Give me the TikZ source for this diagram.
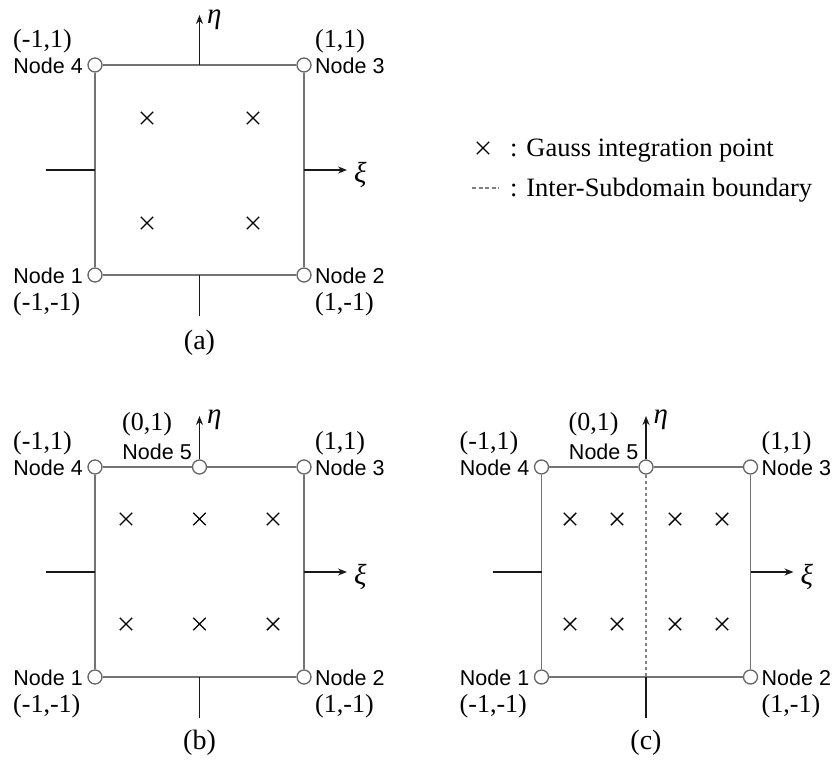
\documentclass[tikz,border=0pt]{standalone}
\usepackage{fontspec}
\setmainfont{Liberation Serif}
\newfontfamily\sansf{Liberation Sans}
\usetikzlibrary{arrows.meta,shapes.misc}
\tikzset{
  edge/.style={draw=black!55, line width=1.5pt},
  sub/.style={draw=black!50, line width=1.2pt, dash pattern=on 3.5pt off 2.5pt},
  axis/.style={draw=black!90, line width=1.9pt},
  arr/.style={axis, -{Stealth[length=9pt,width=7pt]}},
  fem/.style={circle, draw=black!60, fill=white, line width=1.3pt, minimum size=14pt, inner sep=0pt},
  gp/.style={cross out, draw=black, line width=1.4pt, minimum size=11pt, inner sep=0pt},
  lab/.style={font=\sansf\fontsize{21.5}{22}\selectfont, inner sep=0pt, text=black},
  crd/.style={font=\fontsize{26}{27}\selectfont, inner sep=0pt, text=black},
  captxt/.style={font=\fontsize{28}{30}\selectfont, inner sep=0pt},
  grk/.style={font=\itshape\fontsize{29}{30}\selectfont, inner sep=0pt},
  leg/.style={font=\fontsize{26.5}{28}\selectfont, inner sep=0pt, anchor=base west},
}
\begin{document}
\begin{tikzpicture}[x=1pt,y=-1pt]
\useasboundingbox (0,0) rectangle (835,760);

% ---------------- panel (a)
\begin{scope}[name prefix=a-]
  \node[fem] (n1) at (95,275) {};
  \node[fem] (n2) at (304,275) {};
  \node[fem] (n3) at (304,65) {};
  \node[fem] (n4) at (95,65) {};
  \coordinate (top) at (199.5,65);
  \coordinate (bot) at (199.5,275);
  \coordinate (lft) at (95,170);
  \coordinate (rgt) at (304,170);
  \coordinate (etaend) at (199.5,15);
  \coordinate (xiend) at (347,170);
  \coordinate (lstub) at (46,170);
  \coordinate (bstub) at (199.5,316);
  \draw[edge] (n1) -- (n2);
  \draw[edge] (n2) -- (n3);
  \draw[edge] (n3) -- (n4);
  \draw[edge] (n4) -- (n1);
  \draw[arr] (top) -- (etaend);
  \draw[arr] (rgt) -- (xiend);
  \draw[axis] (lstub) -- (lft);
  \draw[axis] (bot) -- (bstub);
  \node[grk, anchor=west] (eta) at (207,20) {η};
  \node[grk, anchor=west] (xi) at (354,175) {ξ};
  \node[gp] (g1) at (147,118) {};
  \node[gp] (g2) at (253,118) {};
  \node[gp] (g3) at (147,223) {};
  \node[gp] (g4) at (253,223) {};
  \node[crd, anchor=west] (c4) at (13,41) {(-1,1)};
  \node[lab, anchor=east] (l4) at (83,66) {Node 4};
  \node[crd, anchor=west] (c3) at (315,41) {(1,1)};
  \node[lab, anchor=west] (l3) at (315,66) {Node 3};
  \node[lab, anchor=east] (l1) at (83,276) {Node 1};
  \node[crd, anchor=west] (c1) at (13,304) {(-1,-1)};
  \node[lab, anchor=west] (l2) at (315,276) {Node 2};
  \node[crd, anchor=west] (c2) at (315,304) {(1,-1)};
  \node[captxt] (cp) at (199.5,343) {(a)};
\end{scope}

% ---------------- panel (b)
\begin{scope}[yshift=-402pt, name prefix=b-]
  \node[fem] (n1) at (95,275) {};
  \node[fem] (n2) at (304,275) {};
  \node[fem] (n3) at (304,65) {};
  \node[fem] (n4) at (95,65) {};
  \node[fem] (n5) at (199.5,65) {};
  \coordinate (bot) at (199.5,275);
  \coordinate (lft) at (95,170);
  \coordinate (rgt) at (304,170);
  \coordinate (etaend) at (199.5,14);
  \coordinate (xiend) at (347,170);
  \coordinate (lstub) at (46,170);
  \coordinate (bstub) at (199.5,316);
  \draw[edge] (n1) -- (n2);
  \draw[edge] (n2) -- (n3);
  \draw[edge] (n3) -- (n5);
  \draw[edge] (n5) -- (n4);
  \draw[edge] (n4) -- (n1);
  \draw[arr] (n5) -- (etaend);
  \draw[arr] (rgt) -- (xiend);
  \draw[axis] (lstub) -- (lft);
  \draw[axis] (bot) -- (bstub);
  \node[grk, anchor=west] (eta) at (207,18) {η};
  \node[grk, anchor=west] (xi) at (354,175) {ξ};
  \node[gp] (g1) at (126,117) {};
  \node[gp] (g2) at (199.5,117) {};
  \node[gp] (g3) at (273,117) {};
  \node[gp] (g4) at (126,222) {};
  \node[gp] (g5) at (199.5,222) {};
  \node[gp] (g6) at (273,222) {};
  \node[crd, anchor=west] (c4) at (13,41) {(-1,1)};
  \node[lab, anchor=east] (l4) at (83,66) {Node 4};
  \node[crd, anchor=west] (c5) at (122,22) {(0,1)};
  \node[lab, anchor=east] (l5) at (192,50) {Node 5};
  \node[crd, anchor=west] (c3) at (315,41) {(1,1)};
  \node[lab, anchor=west] (l3) at (315,66) {Node 3};
  \node[lab, anchor=east] (l1) at (83,276) {Node 1};
  \node[crd, anchor=west] (c1) at (13,304) {(-1,-1)};
  \node[lab, anchor=west] (l2) at (315,276) {Node 2};
  \node[crd, anchor=west] (c2) at (315,304) {(1,-1)};
  \node[captxt] (cp) at (199.5,341) {(b)};
\end{scope}

% ---------------- panel (c)
\begin{scope}[xshift=446.5pt, yshift=-402pt, name prefix=c-]
  \node[fem] (n1) at (95,275) {};
  \node[fem] (n2) at (304,275) {};
  \node[fem] (n3) at (304,65) {};
  \node[fem] (n4) at (95,65) {};
  \node[fem] (n5) at (199.5,65) {};
  \coordinate (bot) at (199.5,275);
  \coordinate (lft) at (95,170);
  \coordinate (rgt) at (304,170);
  \coordinate (etaend) at (199.5,14);
  \coordinate (xiend) at (347,170);
  \coordinate (lstub) at (46,170);
  \coordinate (bstub) at (199.5,316);
  \draw[edge] (n1) -- (n2);
  \draw[edge] (n2) -- (n3);
  \draw[edge] (n3) -- (n5);
  \draw[edge] (n5) -- (n4);
  \draw[edge] (n4) -- (n1);
  \draw[sub] (n5) -- (bot);
  \draw[arr] (n5) -- (etaend);
  \draw[arr] (rgt) -- (xiend);
  \draw[axis] (lstub) -- (lft);
  \draw[axis] (bot) -- (bstub);
  \node[grk, anchor=west] (eta) at (207,18) {η};
  \node[grk, anchor=west] (xi) at (354,175) {ξ};
  \node[gp] (g1) at (123.5,117) {};
  \node[gp] (g2) at (170.5,117) {};
  \node[gp] (g3) at (228.5,117) {};
  \node[gp] (g4) at (275.5,117) {};
  \node[gp] (g5) at (123.5,222) {};
  \node[gp] (g6) at (170.5,222) {};
  \node[gp] (g7) at (228.5,222) {};
  \node[gp] (g8) at (275.5,222) {};
  \node[crd, anchor=west] (c4) at (13,41) {(-1,1)};
  \node[lab, anchor=east] (l4) at (83,66) {Node 4};
  \node[crd, anchor=west] (c5) at (122,22) {(0,1)};
  \node[lab, anchor=east] (l5) at (192,50) {Node 5};
  \node[crd, anchor=west] (c3) at (315,41) {(1,1)};
  \node[lab, anchor=west] (l3) at (315,66) {Node 3};
  \node[lab, anchor=east] (l1) at (83,276) {Node 1};
  \node[crd, anchor=west] (c1) at (13,304) {(-1,-1)};
  \node[lab, anchor=west] (l2) at (315,276) {Node 2};
  \node[crd, anchor=west] (c2) at (315,304) {(1,-1)};
  \node[captxt] (cp) at (199.5,341) {(c)};
\end{scope}

% ---------------- legend
\node[gp] (lgx) at (483,148) {};
\node[leg] (lg1) at (510,156) {: Gauss integration point};
\coordinate (lds) at (472,188);
\coordinate (lde) at (499,188);
\draw[sub, dash pattern=on 4pt off 2.5pt] (lds) -- (lde);
\node[leg] (lg2) at (510,196) {: Inter-Subdomain boundary};
\end{tikzpicture}
\end{document}
